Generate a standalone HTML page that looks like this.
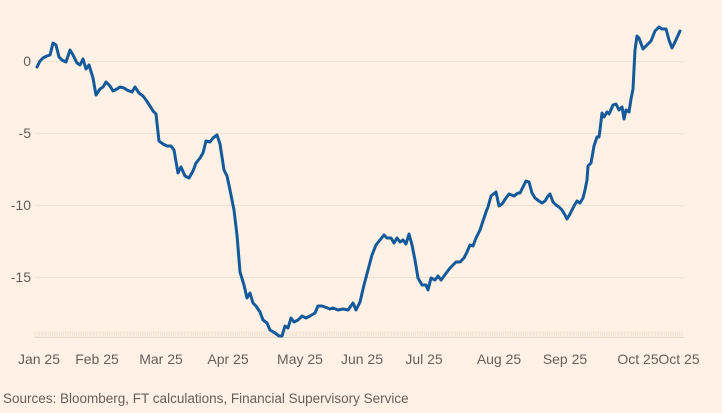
<!DOCTYPE html>
<html><head><meta charset="utf-8"><style>
html,body{margin:0;padding:0;background:#FFF1E5;}
svg{display:block;font-family:"Liberation Sans",sans-serif;}
</style></head><body>
<svg width="722" height="413" viewBox="0 0 722 413" xmlns="http://www.w3.org/2000/svg">
<rect width="722" height="413" fill="#FFF1E5"/>
<g stroke="#F2E2D4" stroke-width="1">
<line x1="34" y1="61.5" x2="684" y2="61.5"/>
<line x1="34" y1="133.5" x2="684" y2="133.5"/>
<line x1="34" y1="205.5" x2="684" y2="205.5"/>
<line x1="34" y1="277.5" x2="684" y2="277.5"/>
</g>
<line x1="35" y1="337.5" x2="684" y2="337.5" stroke="#EADACB" stroke-width="1"/>
<g stroke="#F0E1D3" stroke-width="1" id="ticks"></g>
<g fill="#66605C" font-size="14" text-anchor="end">
<text x="31" y="66">0</text>
<text x="31" y="138">-5</text>
<text x="31" y="210">-10</text>
<text x="31" y="282">-15</text>
</g>
<g fill="#66605C" font-size="14" text-anchor="middle">
<text x="39" y="364">Jan 25</text>
<text x="97" y="364">Feb 25</text>
<text x="161" y="364">Mar 25</text>
<text x="228" y="364">Apr 25</text>
<text x="300" y="364">May 25</text>
<text x="362" y="364">Jun 25</text>
<text x="424" y="364">Jul 25</text>
<text x="499" y="364">Aug 25</text>
<text x="565" y="364">Sep 25</text>
<text x="638" y="364">Oct 25</text>
<text x="679" y="364">Oct 25</text>
</g>
<text x="3" y="403" fill="#66605C" font-size="13.5">Sources: Bloomberg, FT calculations, Financial Supervisory Service</text>
<polyline fill="none" stroke="#135A9A" stroke-width="3" stroke-linejoin="round" stroke-linecap="round" points="37,67 40,61 43,58 47,56 50,55 53,43 56,45 59,57 62,60 66,62 70,50 73,55 77,63 80,65 83,59 86,69 89,65 93,78 96,95 100,89 103,87 106,82 110,86 113,91 117,89 120,87 124,88 127,90 132,92 135,87 139,93 143,96 146,100 150,106 153,111 156,114 159,141 163,144 167,146 171,146 174,150 178,173 181,167 185,176 189,178 193,171 196,163 200,158 203,153 206,141 210,142 213,138 217,135 220,144 224,170 227,176 230,190 234,210 237,235 240,272 244,285 247,298 250,293 253,303 256,306 260,312 263,320 267,323 270,330 275,333 279,336 282,336 285,326 288,328 291,318 294,322 298,320 302,316 306,318 310,316 315,313 318,306 322,306 325,307 330,309 333,308 338,310 343,309 348,310 353,303 356,310 360,302 364,285 368,270 372,255 376,245 380,240 384,235 387,238 391,238 394,243 397,238 400,242 403,240 406,244 409,234 412,245 415,260 418,278 422,285 426,285 428,290 431,278 435,280 438,276 441,280 444,276 447,272 450,268 453,265 456,262 460,262 464,258 467,252 470,245 473,246 476,238 480,230 486,212 488,207 491,196 496,192 499,206 502,204 506,198 509,194 514,196 518,193 520,193 523,187 526,181 529,182 532,193 535,198 539,201 542,203 545,201 548,196 550,194 553,202 556,205 559,207 562,210 565,215 567,219 570,214 574,206 577,201 580,203 583,198 585,190 587,180 588,166 591,163 594,146 597,137 599,137 600,130 602,113 604,117 607,112 609,114 610,112 613,105 616,104 619,110 622,107 624,119 626,110 629,112 631,99 633,89 635,50 637,36 639,38 643,49 646,46 651,41 655,31 659,27 662,29 666,29 669,40 672,48 675,42 680,31"/>
</svg>
<script>
var g=document.getElementById('ticks'),s='';
for(var x=35;x<=684;x+=2.2){s+='<line x1="'+x.toFixed(1)+'" y1="331" x2="'+x.toFixed(1)+'" y2="337"/>';}
g.innerHTML=s;
</script>
</body></html>
